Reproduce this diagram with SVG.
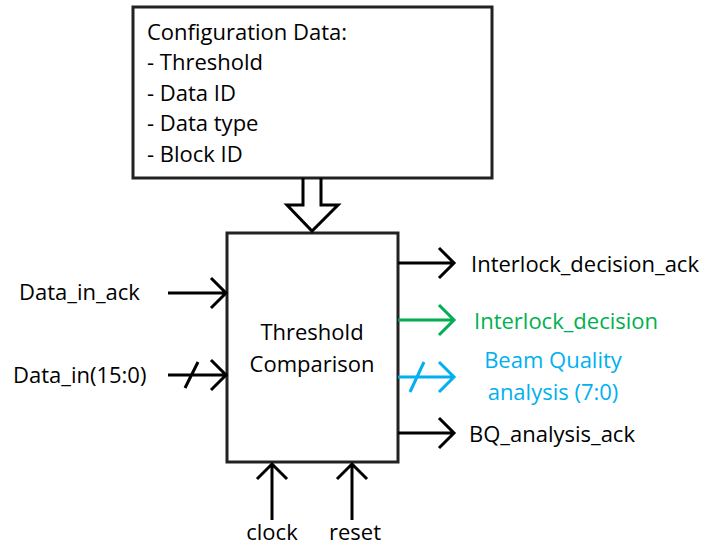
<svg xmlns="http://www.w3.org/2000/svg" width="707" height="547" viewBox="0 0 707 547">
<style>
text{font-family:"Open Sans","Liberation Sans",Arial,sans-serif;font-size:22px;fill:#000}
.box{fill:#fff;stroke:#222;stroke-width:3}
.k{stroke:#000;stroke-width:3;fill:none}
.g{stroke:#00b050;stroke-width:3;fill:none}
.c{stroke:#00b0f0;stroke-width:3;fill:none}
.gt{fill:#00b050}
.ct{fill:#00b0f0}
</style>
<rect width="707" height="547" fill="#fff"/>
<g id="config">
<rect class="box" x="133" y="7" width="359" height="171"/>
<text x="147" y="40">Configuration Data:</text>
<text x="147" y="70">- Threshold</text>
<text x="147" y="101">- Data ID</text>
<text x="147" y="131">- Data type</text>
<text x="147" y="162">- Block ID</text>
</g>
<g id="threshold">
<rect class="box" x="227" y="233" width="171" height="229"/>
<text x="312" y="340" text-anchor="middle">Threshold</text>
<text x="312" y="372" text-anchor="middle">Comparison</text>
</g>
<g id="connectors">
<path class="k" d="M303,178 V205 H287 L312,231 L338,205 H321 V178"/>
<path class="k" d="M168,293 H226 M211,278 L226,293 L211,308"/>
<path class="k" d="M168,375 H226 M211,360 L226,375 L211,390 M185,388 L198,362"/>
<path class="k" d="M398,263 H454 M439,248 L454,263 L439,278"/>
<path class="g" d="M398,320 H454 M439,305 L454,320 L439,335"/>
<path class="c" d="M398,377 H454 M439,362 L454,377 L439,392 M410,392 L424,362"/>
<path class="k" d="M398,433 H454 M439,418 L454,433 L439,448"/>
<path class="k" d="M272,520 V464 M257,479 L272,464 L287,479"/>
<path class="k" d="M352,520 V464 M337,479 L352,464 L367,479"/>
</g>
<g id="labels">
<text x="19" y="300">Data_in_ack</text>
<text x="13" y="383">Data_in(15:0)</text>
<text x="471" y="272">Interlock_decision_ack</text>
<text class="gt" x="474" y="329">Interlock_decision</text>
<text class="ct" x="553" y="368" text-anchor="middle">Beam Quality</text>
<text class="ct" x="553" y="400" text-anchor="middle">analysis (7:0)</text>
<text x="469" y="442">BQ_analysis_ack</text>
<text x="272" y="540" text-anchor="middle">clock</text>
<text x="355" y="540" text-anchor="middle">reset</text>
</g>
</svg>
